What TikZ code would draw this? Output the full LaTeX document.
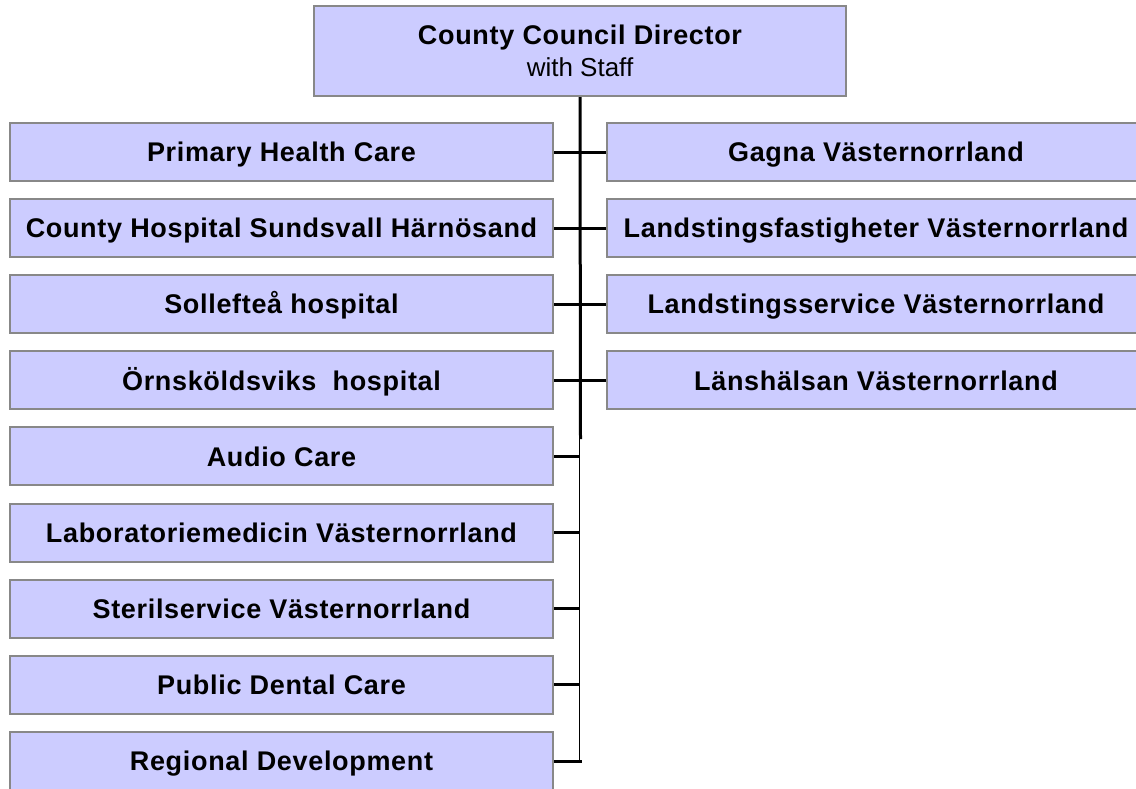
\documentclass[tikz,border=0pt]{standalone}
\usepackage{fontspec}
\setmainfont{Liberation Sans}
\newfontfamily\boxfont{Liberation Sans}[LetterSpace=2.5]
\definecolor{boxfill}{HTML}{CCCCFF}
\definecolor{boxline}{HTML}{888888}
\tikzset{
  orgbox/.style={draw=boxline, line width=2pt, fill=boxfill, inner sep=0pt,
    minimum height=58pt, font=\boxfont\fontsize{27}{30}\selectfont\bfseries},
  leftbox/.style={orgbox, minimum width=543pt, text height=19.5pt, text depth=0pt},
  rightbox/.style={orgbox, minimum width=538pt, text height=19.5pt, text depth=0pt},
  thickconn/.style={line width=3pt},
  conn/.style={line width=3pt},
  thinconn/.style={line width=1.6pt}
}
\begin{document}
\begin{tikzpicture}[x=1pt,y=-1pt]
\useasboundingbox (0,0) rectangle (1136,788);
\clip (0,0) rectangle (1136,788);
\node[orgbox, minimum width=532pt, minimum height=90pt, align=center] (top) at (580,51)
  {County Council Director\\[2pt]{\normalfont\fontsize{26}{30}\selectfont with Staff}};
% left column
\foreach \i/\t in {1/Primary Health Care,
                   2/County Hospital Sundsvall Härnösand,
                   3/Sollefteå hospital,
                   4/Örnsköldsviks\ \ hospital,
                   5/Audio Care,
                   6/Laboratoriemedicin Västernorrland,
                   7/Sterilservice Västernorrland,
                   8/Public Dental Care,
                   9/Regional Development}{
  \node[leftbox] (L\i) at (281.5,{123+76.1*(\i-1)+29}) {\t};
}
% right column
\foreach \i/\t in {1/Gagna Västernorrland,
                   2/Landstingsfastigheter Västernorrland,
                   3/Landstingsservice Västernorrland,
                   4/Länshälsan Västernorrland}{
  \node[rightbox] (R\i) at (876,{123+76.1*(\i-1)+29}) {\t};
}
\coordinate (spinemid) at (580.5,439);
\coordinate (spinethin) at (579.5,439);
\coordinate (spineend) at (579.5,761);
\coordinate (spinex) at (581.5,0);
\draw[thickconn] (top.south) -- (spinemid);
\draw[thinconn] (spinethin) -- (spineend);
\foreach \i in {1,...,4}{
  \draw[conn] (L\i.east) -- (R\i.west);
}
\foreach \i in {5,...,8}{
  \draw[conn] (L\i.east) -- (L\i.east -| spinethin);
}
\draw[conn] (L9.east |- spineend) -- (spineend -| spinex);
\end{tikzpicture}
\end{document}
